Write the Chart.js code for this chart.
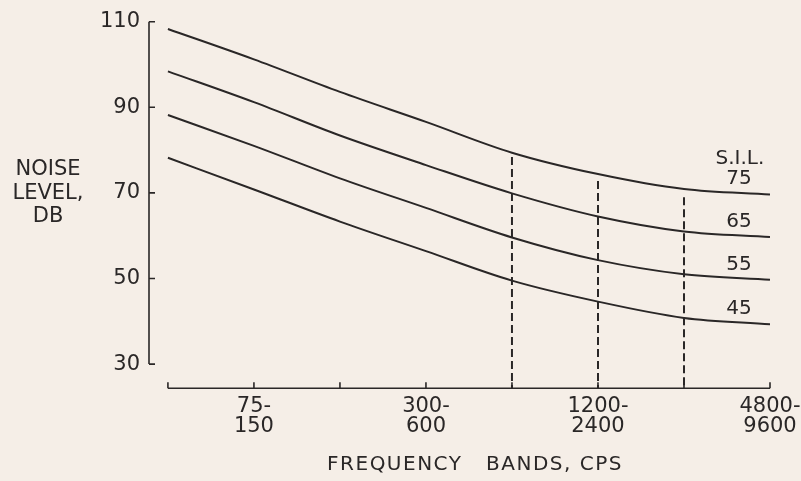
<!DOCTYPE html>
<html>
<head>
<meta charset="utf-8">
<script src="https://cdn.jsdelivr.net/npm/chart.js@4.4.1/dist/chart.umd.min.js"></script>
<style>
  html, body { margin: 0; padding: 0; background: #f5eee7; }
  #wrap { width: 801px; height: 481px; }
</style>
</head>
<body>
<div id="wrap"><canvas id="c" width="801" height="481"></canvas></div>
<script>
// ---- data ----
const categories = ["37.5-75", "75-150", "150-300", "300-600", "600-1200", "1200-2400", "2400-4800", "4800-9600"];
const labelledBands = [1, 3, 5, 7];
const silLevels = ["75", "65", "55", "45"];
const sil75 = [108.3, 101.2, 93.6, 86.6, 79.4, 74.4, 70.9, 69.6];
const sil65 = [98.4, 91.2, 83.4, 76.5, 69.9, 64.5, 61.0, 59.7];
const sil55 = [88.2, 81.0, 73.4, 66.5, 59.6, 54.3, 51.0, 49.7];
const sil45 = [78.2, 70.8, 63.3, 56.4, 49.5, 44.6, 40.8, 39.3];
const yTicks = [30, 50, 70, 90, 110];
const dashedBands = [4, 5, 6];
const dashedTops = [78.4, 72.8, 69.0];
const yTitle = ["NOISE", "LEVEL,", "DB"];
const xTitle = "FREQUENCY   BANDS, CPS";
const silHeader = "S.I.L.";

const Y_MIN = 24.35, Y_MAX = 110;
const X_MIN = -0.22, X_MAX = 7;
const INK = "#2a2727";
const FONT = "'DejaVu Sans', sans-serif";

function series(vals) { return vals.map((v, i) => ({ x: i, y: v })); }

const datasets = [sil75, sil65, sil55, sil45].map((vals, k) => ({
  label: "S.I.L. " + silLevels[k],
  data: series(vals),
  borderColor: INK,
  borderWidth: 2,
  pointRadius: 0,
  cubicInterpolationMode: "monotone",
  fill: false
}));
dashedBands.forEach((b, k) => {
  datasets.push({
    label: "band " + categories[b],
    data: [{ x: b, y: dashedTops[k] }, { x: b, y: Y_MIN }],
    borderColor: INK,
    borderWidth: 2,
    borderDash: [8, 4],
    pointRadius: 0,
    fill: false
  });
});

const decor = {
  id: "decor",
  beforeDraw(chart) {
    const ctx = chart.ctx;
    ctx.save();
    ctx.fillStyle = "#f5eee7";
    ctx.fillRect(0, 0, chart.width, chart.height);
    ctx.restore();
  },
  afterDraw(chart) {
    const ctx = chart.ctx;
    const xs = chart.scales.x, ys = chart.scales.y;
    ctx.save();
    ctx.strokeStyle = INK;
    ctx.lineWidth = 1.6;
    // y axis line + ticks
    const yx = chart.chartArea.left;
    ctx.beginPath();
    ctx.moveTo(yx, ys.getPixelForValue(yTicks[yTicks.length - 1]));
    ctx.lineTo(yx, ys.getPixelForValue(yTicks[0]));
    yTicks.forEach(t => {
      const py = ys.getPixelForValue(t);
      ctx.moveTo(yx, py);
      ctx.lineTo(yx + 6, py);
    });
    ctx.stroke();
    // x axis line + ticks
    const xy = chart.chartArea.bottom;
    ctx.beginPath();
    ctx.moveTo(xs.getPixelForValue(0), xy);
    ctx.lineTo(xs.getPixelForValue(categories.length - 1), xy);
    categories.forEach((c, i) => {
      const px = xs.getPixelForValue(i);
      ctx.moveTo(px, xy);
      ctx.lineTo(px, xy - 6);
    });
    ctx.stroke();
    ctx.fillStyle = INK;
    ctx.textAlign = "center";
    ctx.textBaseline = "middle";
    // y title (horizontal)
    ctx.font = "21px " + FONT;
    yTitle.forEach((t, i) => ctx.fillText(t, 48, 170 + i * 23.5));
    // x title (letter-spaced lettering)
    ctx.font = "20px " + FONT;
    if ("letterSpacing" in ctx) ctx.letterSpacing = "1.5px";
    ctx.fillText(xTitle, 475, 465);
    if ("letterSpacing" in ctx) ctx.letterSpacing = "0px";
    // S.I.L. labels
    ctx.font = "20px " + FONT;
    ctx.fillText(silHeader, xs.getPixelForValue(6.65), ys.getPixelForValue(78.0));
    const lx = xs.getPixelForValue(6.64);
    [sil75, sil65, sil55, sil45].forEach((vals, k) => {
      ctx.fillText(silLevels[k], lx, ys.getPixelForValue(vals[vals.length - 1] + 3.6));
    });
    ctx.restore();
  }
};

new Chart(document.getElementById("c"), {
  type: "line",
  data: { datasets },
  plugins: [decor],
  options: {
    responsive: false,
    animation: false,
    layout: { padding: { top: 21.7, right: 31, left: 0, bottom: 0 } },
    plugins: { legend: { display: false }, tooltip: { enabled: false }, title: { display: false } },
    scales: {
      x: {
        type: "linear",
        min: X_MIN,
        max: X_MAX,
        grid: { display: false, drawTicks: false },
        border: { display: false },
        afterBuildTicks(scale) { scale.ticks = labelledBands.map(v => ({ value: v })); },
        afterFit(scale) { scale.height = 92.7; scale.paddingRight = 0; scale.paddingLeft = 0; },
        ticks: {
          color: INK,
          padding: 8,
          maxRotation: 0,
          autoSkip: false,
          font: { family: FONT, size: 21, lineHeight: 0.95 },
          callback(v) {
            const c = categories[Math.round(v)];
            const parts = c.split("-");
            return [parts[0] + "-", parts[1]];
          }
        },
        title: { display: false }
      },
      y: {
        type: "linear",
        min: Y_MIN,
        max: Y_MAX,
        grid: { display: false, drawTicks: false },
        border: { display: false },
        afterBuildTicks(scale) { scale.ticks = yTicks.map(v => ({ value: v })); },
        afterFit(scale) { scale.width = 149; },
        ticks: {
          color: INK,
          padding: 9,
          font: { family: FONT, size: 21 },
          callback(v) { return String(v); }
        }
      }
    }
  }
});
</script>
</body>
</html>
